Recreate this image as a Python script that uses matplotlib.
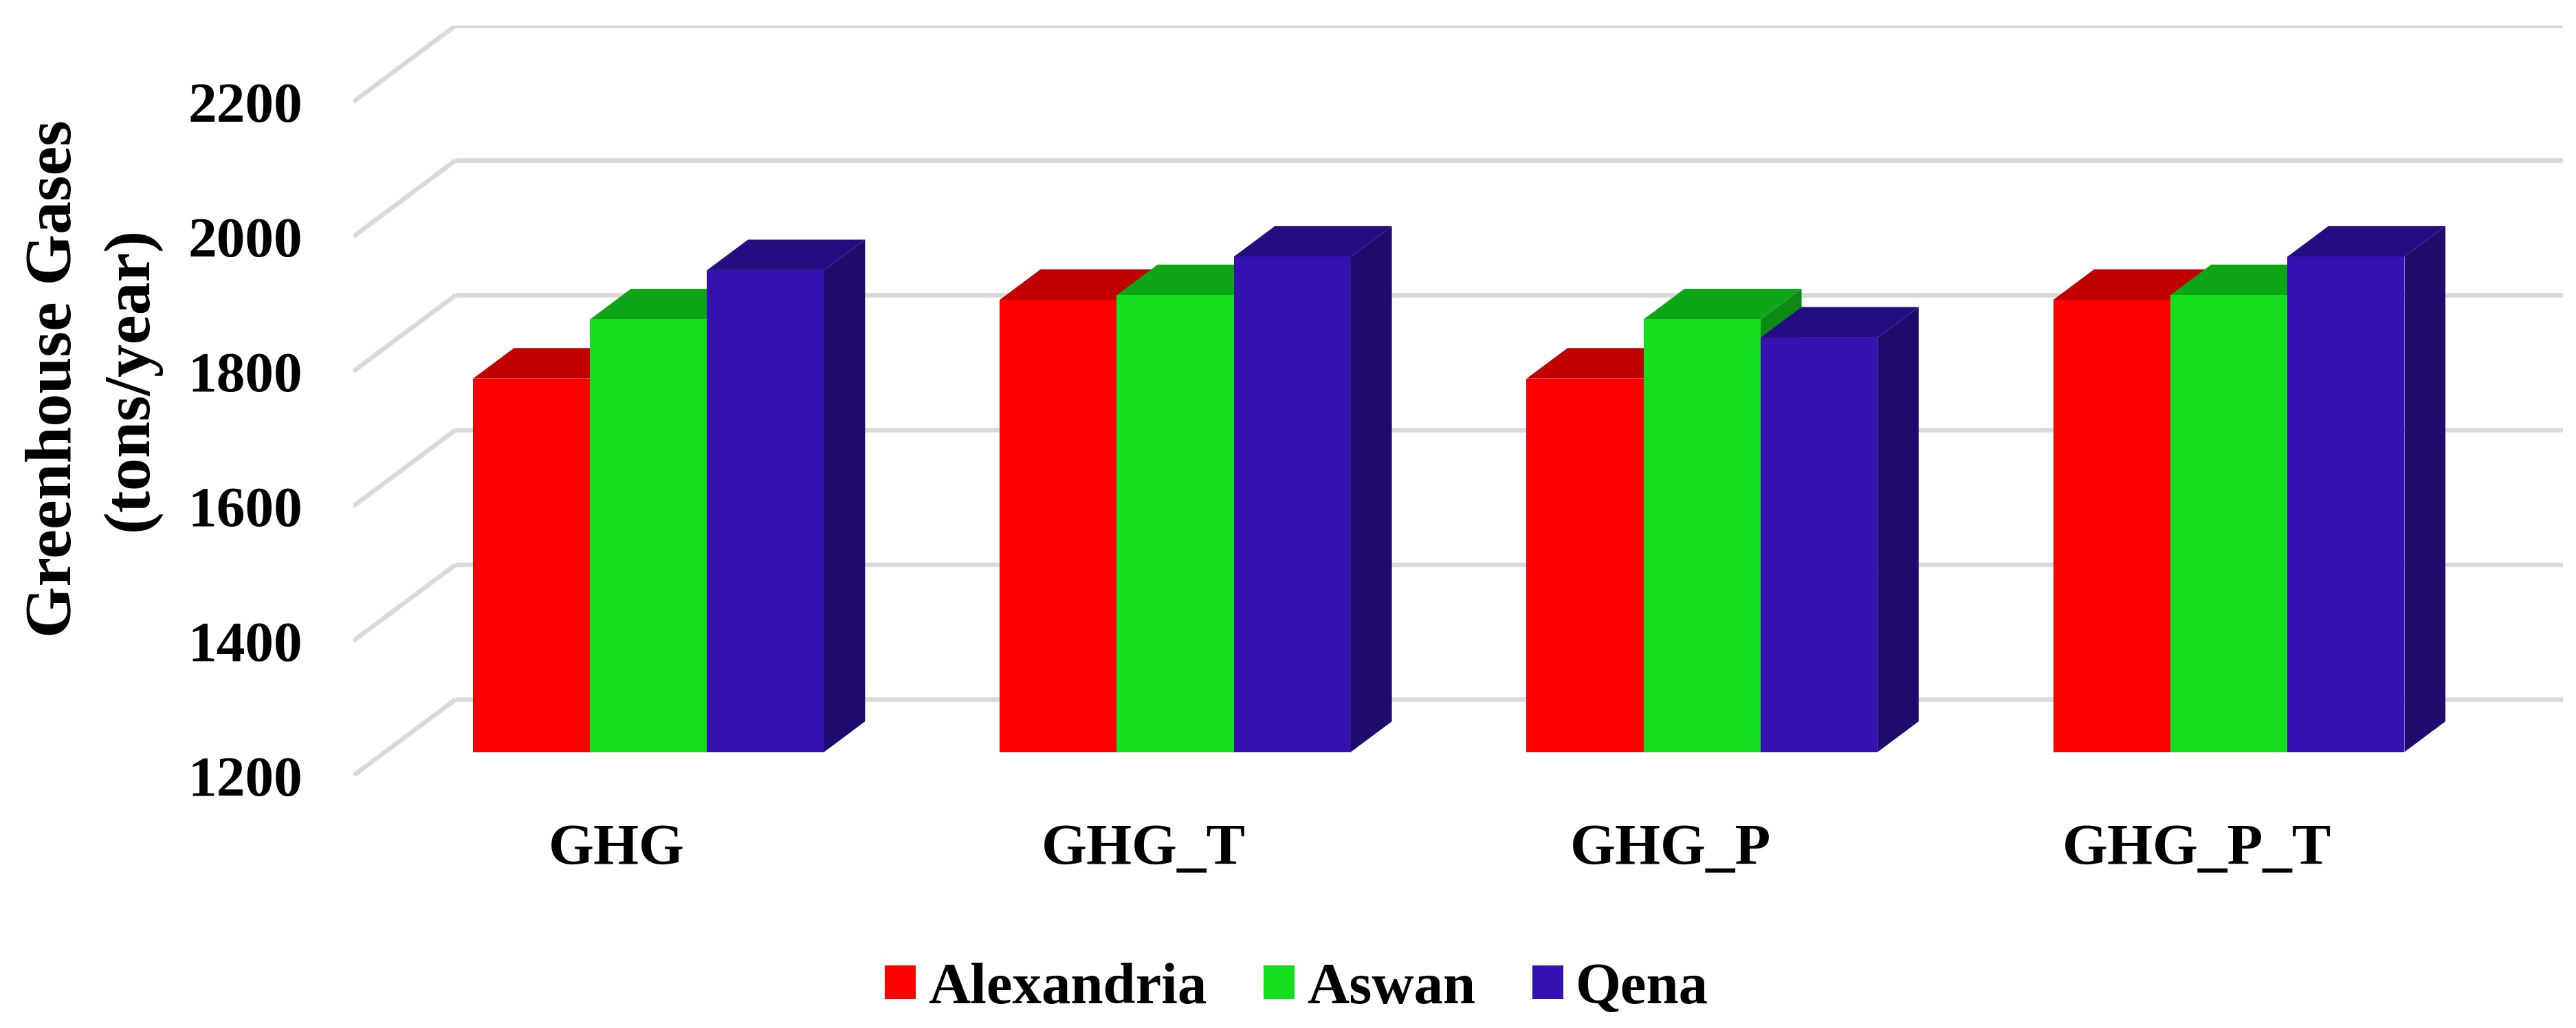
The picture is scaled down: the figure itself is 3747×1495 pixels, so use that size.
import numpy as np
import matplotlib
matplotlib.use('Agg')
import matplotlib.pyplot as plt
from matplotlib.patches import Patch

# data
categories = ['GHG', 'GHG_T', 'GHG_P', 'GHG_P_T']
series = ['Alexandria', 'Aswan', 'Qena']
alexandria = [1754, 1871, 1754, 1871]
aswan = [1842, 1878, 1842, 1878]
qena = [1915, 1935, 1815, 1935]
y_ticks = [1200, 1400, 1600, 1800, 2000, 2200]

front_colors = ['#FF0000', '#13DF1F', '#3411B0']
top_colors = ['#C00000', '#0EA516', '#240D80']
side_colors = ['#A00000', '#0C8A12', '#200B6E']

W, H, DPI = 3748, 1495, 200
DX, DY = 0.1945, 113.3      # oblique shift of the full depth (category units, value units)
Y0, Y1 = 1200, 2200
BAR_W = 1 / 4.5             # 3 bars + 150% gap
D0, DD = 0.31, 0.40         # bar front depth / bar depth, as fraction of full depth

plt.rcParams['font.family'] = 'Liberation Serif'
plt.rcParams['font.weight'] = 'bold'

fig = plt.figure(figsize=(W / DPI, H / DPI), dpi=DPI)
ax = fig.add_axes([514 / W, (H - 1128) / H, (3728 - 514) / W, 1091 / H])
ax.set_xlim(0, len(categories) + DX)
ax.set_ylim(Y0, Y1 + DY)
ax.axis('off')


def shift(xs, ys, d):
    return np.asarray(xs, float) + d * DX, np.asarray(ys, float) + d * DY


# gridlines: left side wall + back wall
grid = dict(color='#D9D9D9', lw=2.4, zorder=1, solid_capstyle='butt')
for v in y_ticks:
    ax.plot([0, DX], [v, v + DY], **grid)
    ax.plot([DX, len(categories) + DX], [v + DY, v + DY], **grid)

# 3D bars, drawn left to right so the next front face hides the side face
values = [alexandria, aswan, qena]
z = 2
for i in range(len(categories)):
    for j, vals in enumerate(values):
        v = vals[i]
        x0 = i + BAR_W * (0.75 + j)
        x1 = x0 + BAR_W
        d1 = D0 + DD
        # top
        xa, ya = shift([x0, x1], [v, v], D0)
        xb, yb = shift([x1, x0], [v, v], d1)
        ax.fill(np.r_[xa, xb], np.r_[ya, yb], color=top_colors[j], lw=0, zorder=z)
        # side
        xa, ya = shift([x1, x1], [Y0, v], D0)
        xb, yb = shift([x1, x1], [v, Y0], d1)
        ax.fill(np.r_[xa, xb], np.r_[ya, yb], color=side_colors[j], lw=0, zorder=z)
        # front
        xf, yf = shift([x0, x1, x1, x0], [Y0, Y0, v, v], D0)
        ax.fill(xf, yf, color=front_colors[j], lw=0, zorder=z)
        z += 1

pt = 72 / DPI
for v in y_ticks:
    ax.annotate(f'{v}', xy=(0, v), xycoords='data',
                xytext=(-74 * pt, -29 * pt), textcoords='offset points',
                ha='right', va='baseline', fontsize=30, annotation_clip=False)

for i, cat in enumerate(categories):
    ax.annotate(cat, xy=(i + 0.5, Y0), xycoords='data',
                xytext=(0, -129 * pt), textcoords='offset points',
                ha='center', va='baseline', fontsize=30.5, annotation_clip=False)

fig.text(103 / W, 1 - 551 / H, 'Greenhouse Gases', rotation=90, rotation_mode='anchor',
         ha='center', va='baseline', fontsize=34.5)
fig.text(213 / W, 1 - 551 / H, '(tons/year)', rotation=90, rotation_mode='anchor',
         ha='center', va='baseline', fontsize=34.5)

handles = [Patch(facecolor=c, edgecolor='none') for c in front_colors]
fig.legend(handles, series, loc='center', bbox_to_anchor=(1886 / W, (H - 1438) / H),
           ncol=3, frameon=False, fontsize=30.5, handlelength=0.53, handleheight=0.52,
           handletextpad=0.22, columnspacing=0.97, borderpad=0, borderaxespad=0)

fig.savefig('out.png', dpi=DPI, facecolor='white')
